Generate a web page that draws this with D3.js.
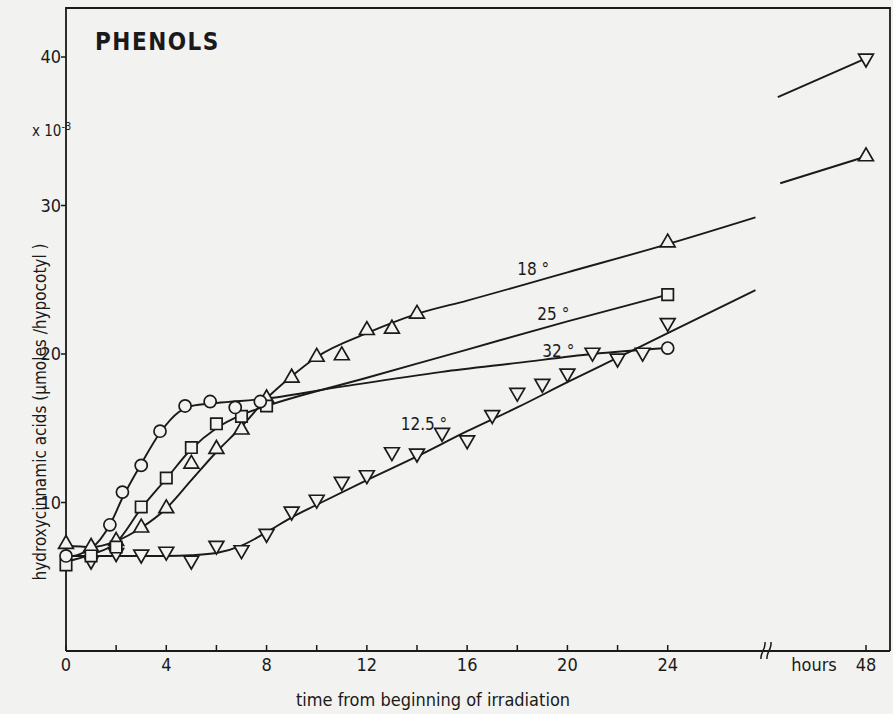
<!DOCTYPE html>
<html>
<head>
<meta charset="utf-8">
<script src="https://cdn.jsdelivr.net/npm/d3@7"></script>
<style>
  body { margin: 0; background: #f2f2f0; }
  svg { display: block; }
  text { font-family: "DejaVu Sans Condensed", "DejaVu Sans", sans-serif; fill: #1a1a1a; }
</style>
</head>
<body>
<div id="chart"></div>
<script>
// tick values
const xTicks = [0, 4, 8, 12, 16, 20, 24];
const xMinorTicks = [2, 6, 10, 14, 18, 22];
const yTicks = [10, 20, 30, 40];

// measured points [hour, value x10^-3]
const pts18 = [[0,7.2],[1,7.0],[2,7.4],[3,8.3],[4,9.6],[5,12.6],[6,13.6],[7,14.9],[8,17.0],[9,18.4],[10,19.8],[11,19.9],[12,21.6],[13,21.7],[14,22.7],[24,27.5],[48,33.3]];
const pts25 = [[0,5.8],[1,6.4],[2,7.0],[3,9.7],[4,11.65],[5,13.7],[6,15.3],[7,15.8],[8,16.5],[24,24.0]];
const pts32 = [[0,6.4],[1.75,8.5],[2.25,10.7],[3,12.5],[3.75,14.8],[4.75,16.5],[5.75,16.8],[6.75,16.4],[7.75,16.8],[24,20.4]];
const pts125 = [[1,6.1],[2,6.6],[3,6.5],[4,6.7],[5,6.1],[6,7.1],[7,6.8],[8,7.9],[9,9.4],[10,10.2],[11,11.4],[12,11.85],[13,13.4],[14,13.3],[15,14.7],[16,14.2],[17,15.9],[18,17.4],[19,18.0],[20,18.7],[21,20.1],[22,19.7],[23,20.1],[24,22.1],[48,39.9]];

// hand-fitted curves
const fit18 = [[0,7.1],[1,7.0],[2,7.4],[3,8.3],[4,9.6],[5,11.5],[6,13.4],[7,15.1],[8,17.0],[9,18.5],[10,19.8],[12,21.4],[14,22.7],[16,23.6],[20,25.5],[24,27.4],[27.5,29.2]];
const fit25 = [[0,6.0],[1,6.5],[2,7.3],[3,9.6],[4,11.6],[5,13.6],[6,15.0],[7,15.9],[8,16.5],[12,18.4],[16,20.3],[20,22.2],[24,24.0]];
const fit32 = [[0,6.3],[1,6.9],[1.75,8.5],[2.25,10.3],[3,12.6],[3.75,14.7],[4.5,16.1],[5,16.5],[6,16.7],[8,17.0],[11,17.8],[15,18.8],[18,19.4],[21,20.0],[24,20.4]];
const fit125 = [[0,6.4],[2,6.4],[4,6.4],[5,6.45],[6,6.6],[7,7.1],[8,8.0],[9,9.0],[10,9.85],[12,11.5],[14,13.1],[16,14.8],[18,16.4],[20,18.1],[22,19.75],[24,21.4],[27.5,24.3]];
const tail18 = [[44.5,31.5],[48,33.3]];
const tail125 = [[44.4,37.3],[48,39.9]];

const curveLabels = [
  {text: "18 °", h: 18.0, v: 25.3},
  {text: "25 °", h: 18.8, v: 22.3},
  {text: "32 °", h: 19.0, v: 19.8},
  {text: "12.5 °", h: 13.35, v: 14.9}
];

const width = 893, height = 714;
const plotLeft = 66, plotTop = 8, plotRight = 890, plotBottom = 651;
const ink = "#1a1a1a", paper = "#f2f2f0";

const svg = d3.select("#chart").append("svg")
    .attr("width", width)
    .attr("height", height);

svg.append("rect").attr("width", width).attr("height", height).attr("fill", paper);

// broken time axis: 0..28 h, then 44..48 h
const x = d3.scaleLinear().domain([0, 28, 44, 48]).range([plotLeft, 768, 768, 866]);
const y = d3.scaleLinear().domain([0, 43.3]).range([plotBottom, plotTop]);

// frame
svg.append("path")
    .attr("d", `M${plotLeft},${plotBottom}V${plotTop}H${plotRight}V${plotBottom}`)
    .attr("fill", "none")
    .attr("stroke", ink)
    .attr("stroke-width", 1.8);

// x axis line
svg.append("line")
    .attr("x1", plotLeft).attr("x2", plotRight)
    .attr("y1", plotBottom).attr("y2", plotBottom)
    .attr("stroke", ink).attr("stroke-width", 1.8);

// x ticks (inward)
svg.append("g").selectAll("line")
    .data(xTicks.concat(xMinorTicks).concat([48]))
    .join("line")
    .attr("x1", d => x(d)).attr("x2", d => x(d))
    .attr("y1", plotBottom).attr("y2", plotBottom - 6)
    .attr("stroke", ink).attr("stroke-width", 1.5);

svg.append("g").selectAll("text")
    .data(xTicks.concat([48]))
    .join("text")
    .attr("x", d => x(d))
    .attr("y", plotBottom + 20)
    .attr("text-anchor", "middle")
    .attr("font-size", 18)
    .text(d => d);

svg.append("text")
    .attr("x", 814).attr("y", plotBottom + 20)
    .attr("text-anchor", "middle")
    .attr("font-size", 18)
    .text("hours");

// axis break marks
svg.append("g").selectAll("path")
    .data([763, 769])
    .join("path")
    .attr("d", d => `M${d - 2},${plotBottom + 8} C${d - 3},${plotBottom + 2} ${d + 3},${plotBottom - 2} ${d + 2},${plotBottom - 9}`)
    .attr("fill", "none")
    .attr("stroke", ink).attr("stroke-width", 1.5);

svg.append("text")
    .attr("x", 433).attr("y", 706)
    .attr("text-anchor", "middle")
    .attr("font-size", 18)
    .text("time from beginning of irradiation");

// y ticks (outward)
svg.append("g").selectAll("line")
    .data(yTicks)
    .join("line")
    .attr("x1", plotLeft).attr("x2", plotLeft - 5)
    .attr("y1", d => y(d)).attr("y2", d => y(d))
    .attr("stroke", ink).attr("stroke-width", 1.5);

svg.append("g").selectAll("text")
    .data(yTicks)
    .join("text")
    .attr("x", plotLeft - 5)
    .attr("y", d => y(d))
    .attr("dy", "0.36em")
    .attr("text-anchor", "end")
    .attr("font-size", 18)
    .text(d => d);

const sci = svg.append("text")
    .attr("x", 32).attr("y", 136)
    .attr("font-size", 15);
sci.append("tspan").text("x 10");
sci.append("tspan").attr("dy", -6).attr("font-size", 11).text("-3");

svg.append("text")
    .attr("transform", "translate(46,412) rotate(-90)")
    .attr("text-anchor", "middle")
    .attr("font-size", 17)
    .text("hydroxycinnamic acids (\u03bcmoles /hypocotyl )");

svg.append("text")
    .attr("x", 95).attr("y", 50)
    .attr("font-size", 24)
    .attr("font-weight", "bold")
    .attr("letter-spacing", 1.5)
    .text("PHENOLS");

// curves
const line = d3.line()
    .x(d => x(d[0]))
    .y(d => y(d[1]))
    .curve(d3.curveMonotoneX);

svg.append("g")
    .selectAll("path")
    .data([fit18, fit25, fit32, fit125, tail18, tail125])
    .join("path")
    .attr("d", line)
    .attr("fill", "none")
    .attr("stroke", ink)
    .attr("stroke-width", 1.9);

// markers
const markerSets = [
  {pts: pts18, shape: d3.symbolTriangle, size: 95, rot: 0},
  {pts: pts125, shape: d3.symbolTriangle, size: 95, rot: 180},
  {pts: pts25, shape: d3.symbolSquare, size: 130, rot: 0},
  {pts: pts32, shape: d3.symbolCircle, size: 115, rot: 0}
];

markerSets.forEach(m => {
    svg.append("g").selectAll("path")
        .data(m.pts)
        .join("path")
        .attr("d", d3.symbol().type(m.shape).size(m.size))
        .attr("transform", d => `translate(${x(d[0])},${y(d[1])}) rotate(${m.rot})`)
        .attr("fill", paper)
        .attr("stroke", ink)
        .attr("stroke-width", 1.7);
});

svg.append("g").selectAll("text")
    .data(curveLabels)
    .join("text")
    .attr("x", d => x(d.h))
    .attr("y", d => y(d.v))
    .attr("font-size", 17)
    .text(d => d.text);
</script>
</body>
</html>
